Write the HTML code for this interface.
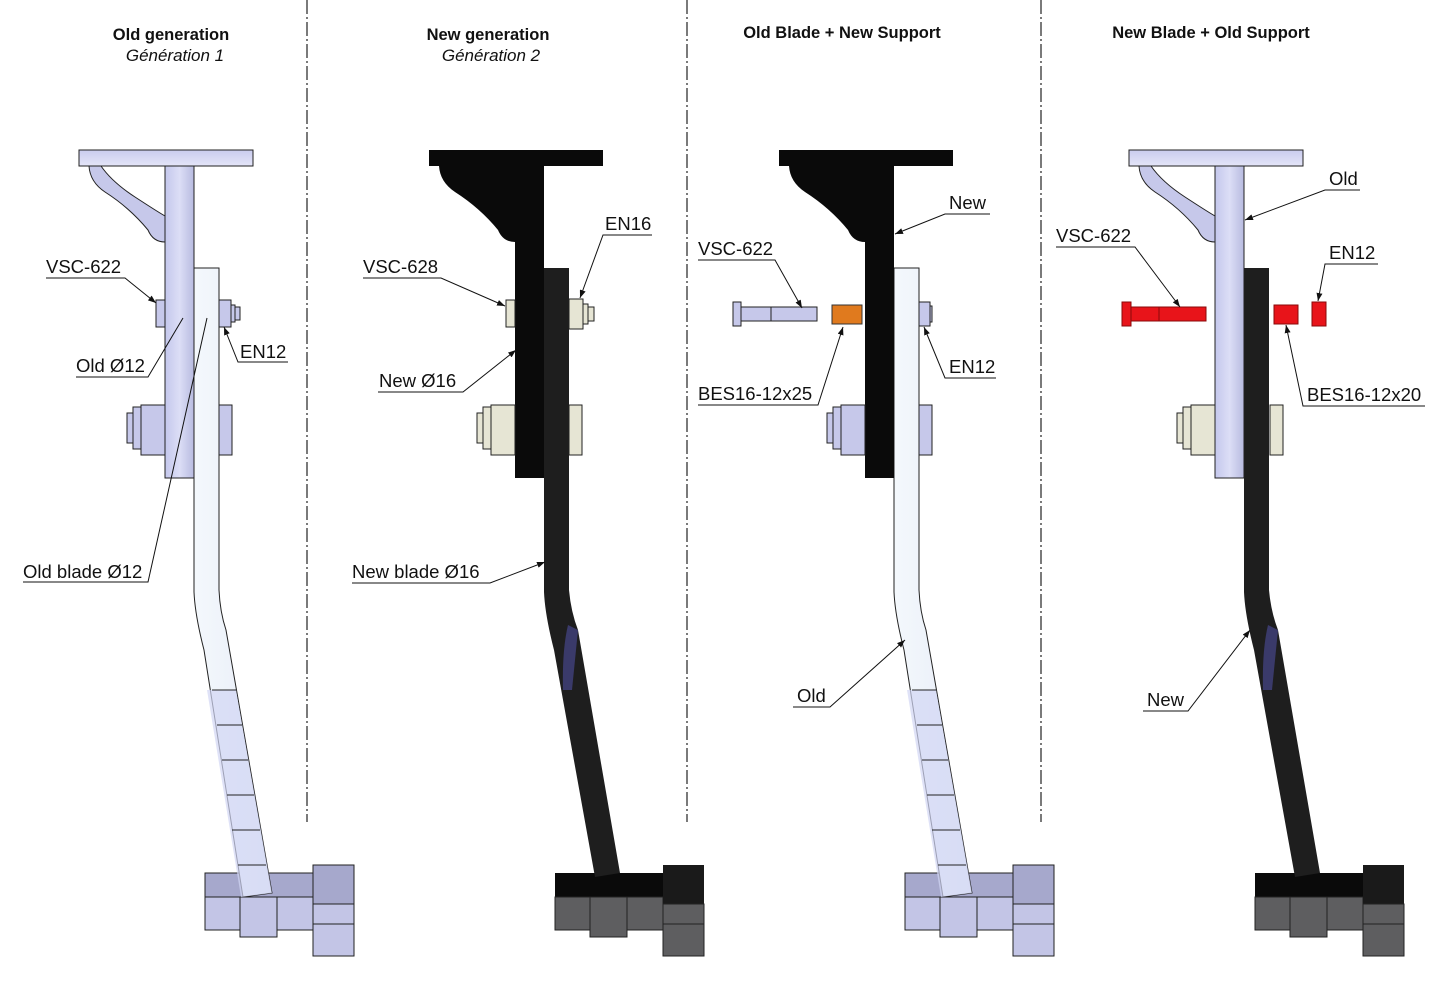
<!DOCTYPE html>
<html><head><meta charset="utf-8"><style>
html,body{margin:0;padding:0;background:#fff;}
svg{display:block;font-family:"Liberation Sans",sans-serif;}
.t{font-size:18.5px;fill:#111;}
.h{font-size:16.5px;font-weight:bold;fill:#111;text-anchor:middle;}
.i{font-size:17px;font-style:italic;fill:#111;text-anchor:middle;}
.ld{stroke:#111;stroke-width:1;fill:none;}
.ol{stroke:#222;stroke-width:1;}
</style></head><body>
<svg width="1432" height="995" viewBox="0 0 1432 995" xmlns="http://www.w3.org/2000/svg">
<defs>
<marker id="ar" markerWidth="8" markerHeight="6" refX="8" refY="3" orient="auto" markerUnits="userSpaceOnUse"><path d="M0,0 L8,3 L0,6 Z" fill="#111"/></marker>
<linearGradient id="lv" x1="0" y1="0" x2="1" y2="0"><stop offset="0" stop-color="#c4c7ec"/><stop offset="0.5" stop-color="#dcdef6"/><stop offset="1" stop-color="#b8bbe0"/></linearGradient>
<linearGradient id="lb" x1="0" y1="0" x2="1" y2="0"><stop offset="0" stop-color="#f4f8fc"/><stop offset="1" stop-color="#e6ecf8"/></linearGradient>
<linearGradient id="pl" x1="0" y1="0" x2="0" y2="1"><stop offset="0" stop-color="#c9cbee"/><stop offset="1" stop-color="#e4e5f8"/></linearGradient>

<g id="supL">
<rect x="79" y="150" width="174" height="16" fill="url(#pl)" class="ol"/>
<path d="M89,166 H101 Q112,182 135,197 Q158,212 165,216 V242 Q153,242 148,230 Q130,208 105,192 Q90,182 89,166 Z" fill="#c6c8ea" class="ol"/>
<rect x="165" y="166" width="29" height="312" fill="url(#lv)" class="ol"/>
</g>
<g id="supB">
<rect x="79" y="150" width="174" height="16" fill="#0a0a0a"/>
<path d="M89,166 H165 V242 Q153,242 148,230 Q130,208 105,192 Q90,182 89,166 Z" fill="#0a0a0a"/>
<rect x="165" y="166" width="29" height="312" fill="#0a0a0a"/>
</g>
<g id="bladeL">
<path d="M194,268 H219 V590 Q220,612 226,630 L272,893 L243,897 L204,650 Q195,615 194,592 Z" fill="url(#lb)" class="ol"/>
<path d="M207,690 L241,897 L272,893 L236,690 Z" fill="#d2d5f4" opacity="0.7"/>
<path d="M212,690 L236,690 M217,725 L242,725 M222,760 L248,760 M227,795 L254,795 M232,830 L260,830 M238,865 L266,865" class="ol"/>
</g>
<g id="bladeB">
<path d="M194,268 H219 V590 Q221,612 228,630 L270,873 L245,877 L204,650 Q195,615 194,592 Z" fill="#1e1e1e"/>
<path d="M218,625 Q212,650 213,690 L222,690 L228,630 Z" fill="#3a3a6a"/>
</g>
<g id="baseL">
<rect x="205" y="873" width="108" height="24" fill="#a6a8cc" class="ol"/>
<rect x="205" y="897" width="35" height="33" fill="#c3c5e6" class="ol"/>
<rect x="240" y="897" width="37" height="40" fill="#c3c5e6" class="ol"/>
<rect x="277" y="897" width="36" height="33" fill="#c3c5e6" class="ol"/>
<rect x="313" y="865" width="41" height="39" fill="#a6a8cc" class="ol"/>
<rect x="313" y="904" width="41" height="20" fill="#c3c5e6" class="ol"/>
<rect x="313" y="924" width="41" height="32" fill="#c3c5e6" class="ol"/>
</g>
<g id="baseB">
<rect x="205" y="873" width="108" height="24" fill="#0a0a0a"/>
<rect x="205" y="897" width="35" height="33" fill="#5e5e60" class="ol"/>
<rect x="240" y="897" width="37" height="40" fill="#5e5e60" class="ol"/>
<rect x="277" y="897" width="36" height="33" fill="#5e5e60" class="ol"/>
<rect x="313" y="865" width="41" height="39" fill="#1a1a1a"/>
<rect x="313" y="904" width="41" height="20" fill="#5e5e60" class="ol"/>
<rect x="313" y="924" width="41" height="32" fill="#5e5e60" class="ol"/>
</g>
</defs>

<g stroke="#222" stroke-width="1.2" stroke-dasharray="14,3,2,3">
<line x1="307" y1="0" x2="307" y2="822"/>
<line x1="687" y1="0" x2="687" y2="822"/>
<line x1="1041" y1="0" x2="1041" y2="822"/>
</g>

<text class="h" x="171" y="40">Old generation</text>
<text class="i" x="175" y="61">Génération 1</text>
<text class="h" x="488" y="40">New generation</text>
<text class="i" x="491" y="61">Génération 2</text>
<text class="h" x="842" y="38">Old Blade + New Support</text>
<text class="h" x="1211" y="38">New Blade + Old Support</text>

<use href="#baseL"/>
<use href="#bladeL"/>
<use href="#supL"/>
<g fill="#c6c8ea" class="ol">
<rect x="156" y="300" width="9" height="27"/>
<rect x="219" y="300" width="12" height="27"/><rect x="231" y="305" width="4" height="17"/><rect x="235" y="307" width="5" height="13"/>
<rect x="127" y="413" width="6" height="30"/><rect x="133" y="407" width="8" height="42"/><rect x="141" y="405" width="24" height="50"/>
<rect x="219" y="405" width="13" height="50"/>
</g>
<g transform="translate(350,0)">
<use href="#baseB"/>
<use href="#bladeB"/>
<use href="#supB"/>
<g fill="#e6e5d4" class="ol">
<rect x="156" y="300" width="9" height="27"/>
<rect x="219" y="299" width="14" height="30"/><rect x="233" y="304" width="5" height="20"/><rect x="238" y="307" width="6" height="14"/>
<rect x="127" y="413" width="6" height="30"/><rect x="133" y="407" width="8" height="42"/><rect x="141" y="405" width="24" height="50"/>
<rect x="219" y="405" width="13" height="50"/>
</g>
</g>
<g transform="translate(700,0)">
<use href="#baseL"/>
<use href="#bladeL"/>
<use href="#supB"/>
<g fill="#c6c8ea" class="ol">
<rect x="219" y="302" width="11" height="24"/><rect x="230" y="306" width="2" height="16"/>
<rect x="127" y="413" width="6" height="30"/><rect x="133" y="407" width="8" height="42"/><rect x="141" y="405" width="24" height="50"/>
<rect x="219" y="405" width="13" height="50"/>
</g>
</g>
<g fill="#c6c8ea" class="ol">
<rect x="733" y="302" width="8" height="24"/><rect x="741" y="307" width="30" height="14"/><rect x="771" y="307" width="46" height="14"/>
</g>
<rect x="832" y="305" width="30" height="19" fill="#e07a1e" stroke="#333"/>
<g transform="translate(1050,0)">
<use href="#baseB"/>
<use href="#bladeB"/>
<use href="#supL"/>
<g fill="#e6e5d4" class="ol">
<rect x="127" y="413" width="6" height="30"/><rect x="133" y="407" width="8" height="42"/><rect x="141" y="405" width="24" height="50"/>
<rect x="220" y="405" width="13" height="50"/>
</g>
</g>
<g fill="#e8141a" stroke="#8a0a0a">
<rect x="1122" y="302" width="9" height="24"/><rect x="1131" y="307" width="28" height="14"/><rect x="1159" y="307" width="47" height="14"/>
<rect x="1274" y="305" width="24" height="19"/>
<rect x="1312" y="302" width="14" height="24"/>
</g>

<g class="t">
<text x="46" y="273">VSC-622</text>
<text x="240" y="358">EN12</text>
<text x="76" y="372">Old Ø12</text>
<text x="23" y="578">Old blade Ø12</text>
<text x="363" y="273">VSC-628</text>
<text x="605" y="230">EN16</text>
<text x="379" y="387">New Ø16</text>
<text x="352" y="578">New blade Ø16</text>
<text x="949" y="209">New</text>
<text x="698" y="255">VSC-622</text>
<text x="698" y="400">BES16-12x25</text>
<text x="949" y="373">EN12</text>
<text x="797" y="702">Old</text>
<text x="1329" y="185">Old</text>
<text x="1056" y="242">VSC-622</text>
<text x="1329" y="259">EN12</text>
<text x="1307" y="401">BES16-12x20</text>
<text x="1147" y="706">New</text>
</g>
<g class="ld">
<path d="M46,278 H125 L156,303" marker-end="url(#ar)"/>
<path d="M288,362 H238 L224,327" marker-end="url(#ar)"/>
<path d="M76,377 H148 L183,318"/>
<path d="M23,582 H148 L207,318"/>
<path d="M363,278 H441 L505,306" marker-end="url(#ar)"/>
<path d="M652,235 H603 L580,298" marker-end="url(#ar)"/>
<path d="M378,392 H463 L516,350" marker-end="url(#ar)"/>
<path d="M352,583 H490 L545,562" marker-end="url(#ar)"/>
<path d="M990,214 H945 L895,234" marker-end="url(#ar)"/>
<path d="M698,260 H775 L802,308" marker-end="url(#ar)"/>
<path d="M698,405 H818 L843,327" marker-end="url(#ar)"/>
<path d="M996,378 H945 L924,327" marker-end="url(#ar)"/>
<path d="M793,707 H830 L905,640" marker-end="url(#ar)"/>
<path d="M1360,190 H1325 L1245,220" marker-end="url(#ar)"/>
<path d="M1056,247 H1135 L1180,307" marker-end="url(#ar)"/>
<path d="M1378,264 H1325 L1318,301" marker-end="url(#ar)"/>
<path d="M1425,406 H1303 L1286,325" marker-end="url(#ar)"/>
<path d="M1143,711 H1188 L1250,630" marker-end="url(#ar)"/>
</g>
</svg>
</body></html>
